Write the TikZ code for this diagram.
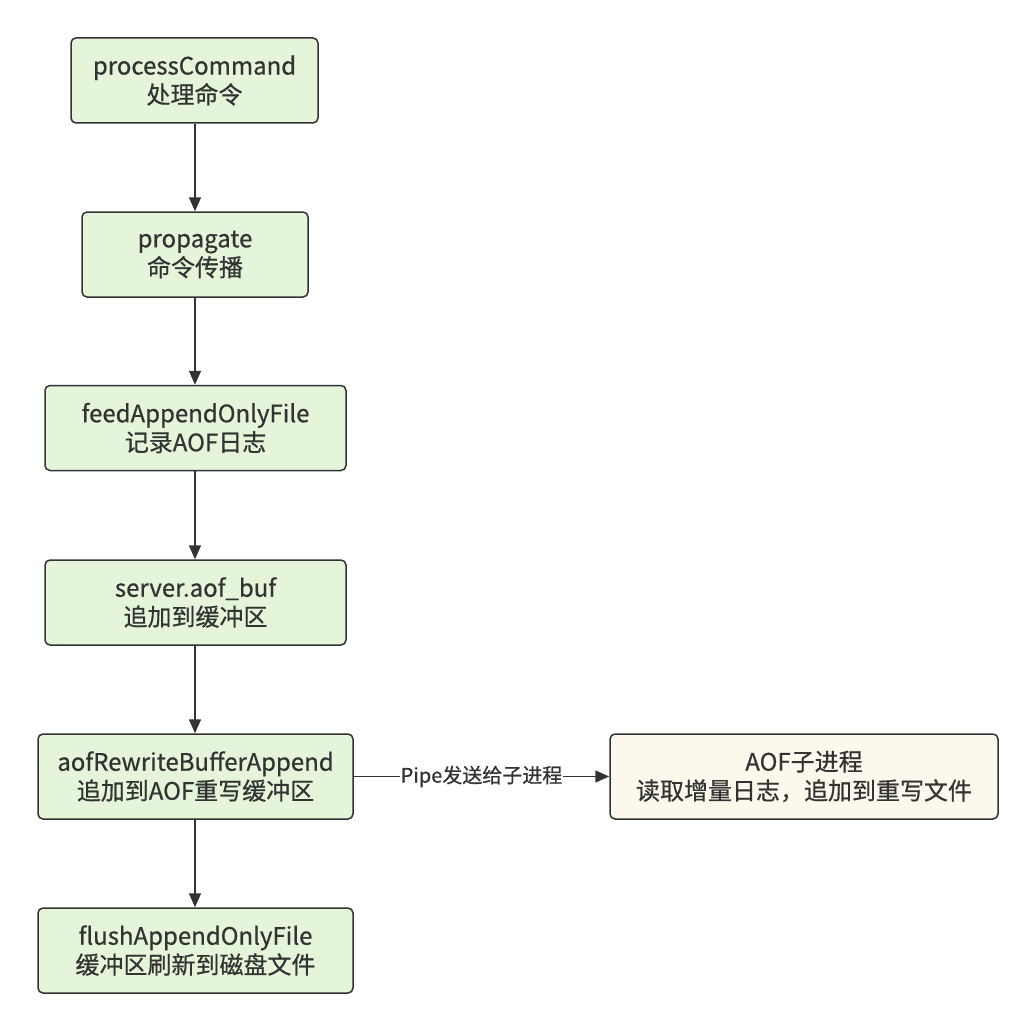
\documentclass[tikz,border=0pt]{standalone}
\usepackage{fontspec}
\setmainfont{Noto Sans CJK SC}[FakeBold=0.6]
\usetikzlibrary{arrows.meta}
\definecolor{boxgreen}{HTML}{E4F5D9}
\definecolor{boxyellow}{HTML}{FCF9EC}
\definecolor{ink}{HTML}{333333}
\tikzset{
  stepbox/.style={draw=ink, line width=1.5pt, rounded corners=5pt, fill=boxgreen,
    align=center, inner sep=0pt, text=ink, font=\fontsize{24}{29}\selectfont,
    minimum height=85pt},
  childbox/.style={stepbox, fill=boxyellow},
  flow/.style={draw=ink, line width=1.5pt, -{Triangle[length=14pt,width=12pt]}},
  lbl/.style={fill=white, text=ink, inner sep=1pt, font=\fontsize{20}{24}\selectfont}
}
\begin{document}
\begin{tikzpicture}[x=1pt,y=-1pt]
\useasboundingbox (0,0) rectangle (1036,1030);
\node[stepbox, minimum width=247pt] (pc) at (194.5,80.5) {processCommand\\处理命令};
\node[stepbox, minimum width=226pt] (pr) at (195,254.5) {propagate\\命令传播};
\node[stepbox, minimum width=301pt] (fa) at (195.5,428) {feedAppendOnlyFile\\记录AOF日志};
\node[stepbox, minimum width=301pt] (sb) at (195.5,602.5) {server.aof\_buf\\追加到缓冲区};
\node[stepbox, minimum width=315pt] (ar) at (195.5,776.5) {aofRewriteBufferAppend\\追加到AOF重写缓冲区};
\node[stepbox, minimum width=315pt] (fl) at (195.5,950.5) {flushAppendOnlyFile\\缓冲区刷新到磁盘文件};
\node[childbox, minimum width=388pt] (ch) at (804,776.5) {AOF子进程\\读取增量日志，追加到重写文件};
\draw[flow] (pc.south -| 195,0) -- (pr.north -| 195,0);
\draw[flow] (pr.south -| 195,0) -- (fa.north -| 195,0);
\draw[flow] (fa.south -| 195,0) -- (sb.north -| 195,0);
\draw[flow] (sb.south -| 195,0) -- (ar.north -| 195,0);
\draw[flow] (ar.south -| 195,0) -- (fl.north -| 195,0);
\draw[flow] (ar.east) -- node[lbl] {Pipe发送给子进程} (ch.west);
\end{tikzpicture}
\end{document}
